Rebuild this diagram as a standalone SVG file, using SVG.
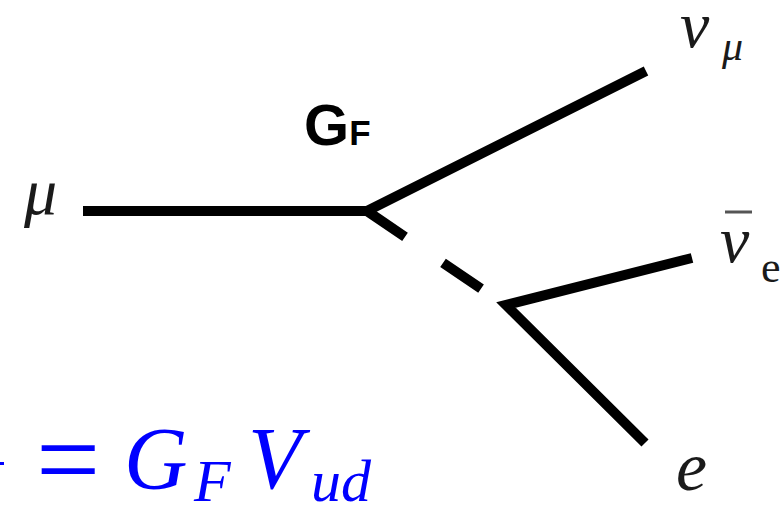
<svg xmlns="http://www.w3.org/2000/svg" width="780" height="507" viewBox="0 0 780 507">
<style>
.ln{stroke:#000;stroke-width:10;fill:none;stroke-linecap:butt;stroke-linejoin:miter}
.lbl{font-family:"Liberation Serif","DejaVu Serif",serif;font-style:italic;fill:#1a1a1a}
.up{font-family:"Liberation Serif","DejaVu Serif",serif;fill:#1a1a1a}
.gf{font-family:"Liberation Sans",Arial,sans-serif;font-weight:bold;fill:#000}
.blue{font-family:"Liberation Serif","DejaVu Serif",serif;fill:#0000ff}
</style>
<rect width="780" height="507" fill="#fff"/>
<g id="connectors">
<polyline class="ln" points="83,211 367,211 646,71"/>
<line class="ln" x1="367" y1="211" x2="505" y2="305" stroke-dasharray="46 46"/>
<polyline class="ln" points="692,258 506,305 645,443"/>
</g>
<g id="node-mu"><text class="lbl" x="24" y="214" font-size="66">μ</text></g>
<g id="node-numu"><text class="lbl" x="680" y="47" font-size="66">ν</text><text class="lbl" x="722" y="60" font-size="42">μ</text></g>
<g id="node-nuebar"><text class="lbl" x="720" y="262" font-size="66">ν</text><line x1="725" y1="212" x2="752" y2="212" stroke="#555" stroke-width="3"/><text class="up" x="761" y="282" font-size="44">e</text></g>
<g id="node-e"><text class="lbl" x="676" y="490" font-size="70">e</text></g>
<g id="label-gf"><text class="gf" x="304" y="145" font-size="58">G<tspan font-size="35">F</tspan></text></g>
<g id="formula">
<line x1="0" y1="463.5" x2="4" y2="463.5" stroke="#0000ff" stroke-width="3"/>
<text class="blue" x="36" y="498" font-size="114">=</text>
<text class="blue" x="124" y="488" font-size="88" font-style="italic">G</text>
<text class="blue" x="194" y="501" font-size="60" font-style="italic">F</text>
<text class="blue" x="248" y="488" font-size="88" font-style="italic">V</text>
<text class="blue" x="311" y="501" font-size="60" font-style="italic">ud</text>
</g>
</svg>
